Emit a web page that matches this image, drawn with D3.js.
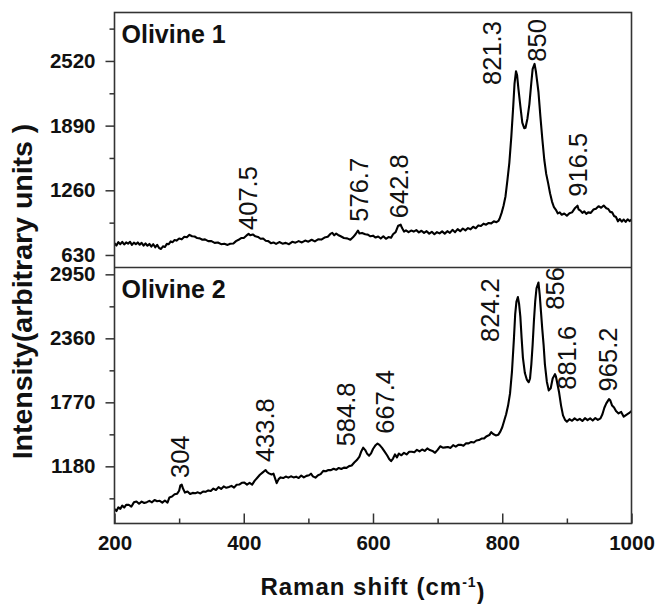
<!DOCTYPE html>
<html>
<head>
<meta charset="utf-8">
<script src="https://cdn.jsdelivr.net/npm/d3@7"></script>
<style>
  html, body { margin: 0; padding: 0; background: #fff; }
  svg { display: block; font-family: "Liberation Sans", Arial, sans-serif; }
</style>
</head>
<body>
<svg id="chart" width="658" height="604"></svg>
<script>
// Raman spectra of two olivine grains: [Raman shift (cm-1), intensity]
const olivine1 = [
  [200,744],[203,722],[206,755],[209,735],[212,758],[215,732],[218,752],[221,740],[224,758],[227,728],
  [230,750],[233,735],[236,752],[239,730],[242,748],[245,722],[248,742],[251,720],[254,738],[257,712],
  [260,735],[263,705],[266,728],[269,698],[272,688],[275,715],[278,708],[281,738],[284,735],[287,762],
  [290,755],[293,775],[296,770],[300,790],[304,782],[308,808],[312,802],[316,826],[320,812],[324,810],
  [328,795],[332,792],[336,778],[340,782],[345,765],[350,765],[355,748],[360,752],[365,735],[370,740],
  [375,728],[379,740],[384,742],[388,765],[392,778],[396,795],[400,796],[404,818],[407.5,835],[410,822],
  [414,830],[418,812],[422,806],[426,788],[430,790],[434,768],[438,765],[442,745],[446,752],[450,738],
  [455,756],[460,740],[465,748],[470,735],[475,758],[480,750],[485,765],[490,752],[495,770],[500,760],
  [505,778],[510,762],[515,782],[520,780],[525,800],[530,808],[534,835],[537,845],[540,822],[543,838],
  [546,825],[550,812],[555,795],[560,792],[565,778],[569,802],[573,832],[576.7,868],[579,840],[583,845],
  [588,832],[592,828],[596,812],[600,818],[604,800],[608,810],[612,790],[616,812],[620,788],[624,805],
  [628,798],[631,832],[635,852],[639,915],[642.8,925],[645,892],[648,858],[651,870],[655,852],[659,868],
  [663,858],[667,872],[671,850],[675,866],[679,845],[683,862],[687,838],[691,856],[695,832],[699,852],
  [703,840],[707,860],[711,838],[715,862],[719,845],[723,875],[727,852],[731,882],[735,862],[739,888],
  [743,870],[747,892],[751,880],[755,905],[759,890],[763,918],[767,912],[771,935],[775,925],[779,942],
  [783,938],[787,958],[791,950],[794,962],[796,985],[799,1040],[802,1110],[805,1200],[808,1360],[811,1530],
  [814,1780],[817,2080],[819,2300],[821.3,2420],[823,2380],[825,2250],[828,2080],[831,1920],[834,1865],[836,1870],
  [839,1960],[842,2100],[845,2310],[847,2440],[850,2491],[852,2420],[854,2320],[856,2220],[859,1980],[862,1760],
  [865,1560],[868,1420],[871,1330],[874,1230],[877,1150],[880,1095],[883,1070],[886,1035],[889,1045],[892,1022],
  [896,1034],[900,1012],[904,1036],[908,1045],[912,1082],[916.5,1110],[918,1075],[921,1062],[924,1040],[927,1055],
  [930,1030],[933,1045],[937,1040],[941,1072],[945,1080],[949,1105],[953,1090],[957,1112],[961,1085],[964,1078],
  [967,1050],[970,1045],[973,1010],[976,1000],[979,958],[982,980],[985,955],[988,975],[991,952],[994,978],
  [997,960],[1000,975]
];

const olivine2 = [
  [200,786],[203,768],[206,802],[209,788],[212,818],[215,800],[218,825],[222,826],[226,808],[230,848],
  [234,856],[238,835],[242,855],[246,842],[250,850],[254,862],[258,848],[262,870],[266,858],[270,862],
  [274,845],[278,865],[282,845],[285,893],[289,902],[293,922],[297,928],[300,955],[302,1005],[304,1012],
  [306,975],[309,938],[313,948],[317,925],[321,935],[325,932],[329,940],[333,930],[337,948],[341,945],
  [345,958],[349,952],[353,975],[357,962],[361,988],[365,972],[369,995],[373,982],[377,990],[381,1000],
  [385,984],[389,1010],[393,1012],[397,1028],[401,1030],[405,1012],[409,1028],[413,1012],[417,1048],[421,1075],
  [425,1102],[429,1122],[433.8,1146],[436,1128],[439,1115],[443,1105],[446,1112],[449,1060],[451,1025],[454,1062],
  [457,1078],[461,1072],[465,1086],[469,1076],[473,1088],[477,1078],[481,1085],[485,1072],[489,1095],[493,1078],
  [497,1092],[501,1098],[504,1112],[507,1088],[511,1076],[515,1098],[519,1108],[523,1138],[527,1135],[531,1146],
  [535,1145],[539,1158],[543,1148],[547,1165],[551,1155],[555,1168],[559,1166],[563,1182],[567,1188],[571,1215],
  [575,1238],[579,1270],[582,1320],[584.8,1352],[588,1330],[591,1295],[594,1278],[597,1300],[600,1340],[604,1375],
  [607,1390],[610,1378],[614,1350],[618,1315],[622,1280],[625,1248],[628,1228],[631,1252],[634,1290],[637,1262],
  [640,1298],[644,1282],[648,1305],[652,1290],[656,1315],[660,1315],[664,1310],[668,1332],[672,1318],[676,1335],
  [680,1322],[684,1345],[688,1330],[692,1322],[696,1305],[700,1332],[704,1365],[708,1352],[712,1355],[716,1358],
  [720,1350],[724,1375],[728,1362],[732,1378],[736,1378],[740,1370],[744,1392],[748,1392],[752,1405],[756,1400],
  [760,1418],[764,1422],[768,1436],[772,1438],[776,1458],[780,1468],[783,1495],[786,1478],[790,1465],[794,1472],
  [797,1500],[800,1540],[803,1600],[806,1660],[809,1740],[812,1850],[815,2050],[818,2350],[820,2580],[822,2700],
  [824.2,2740],[826,2680],[828,2560],[830,2360],[832,2180],[835,2040],[838,1980],[841,1955],[843,1990],[845,2120],
  [847,2300],[849,2520],[851,2700],[853,2820],[856,2875],[858,2760],[860,2600],[862,2440],[864,2300],[866,2120],
  [869,1960],[872,1880],[875,1900],[878,1990],[881.6,2030],[883,2010],[885,1950],[888,1860],[891,1740],[894,1650],
  [897,1610],[900,1592],[904,1615],[908,1600],[912,1622],[916,1605],[920,1618],[924,1598],[928,1624],[932,1606],
  [936,1622],[940,1602],[944,1625],[948,1608],[952,1622],[955,1660],[958,1720],[961,1760],[965.2,1800],[967,1790],
  [970,1740],[973,1722],[976,1690],[980,1668],[984,1682],[988,1638],[992,1655],[996,1670],[1000,1690]
];

// Peak annotations: text, position along the shift axis, intensity at the foot of the label
const peakText1 = ["407.5", "576.7", "642.8", "821.3", "850", "916.5"];
const peakShift1 = [406, 578, 639.5, 784.4, 853.5, 917.2];
const peakLevel1 = [874, 954, 988, 2286, 2513, 1198];

const peakText2 = ["304", "433.8", "584.8", "667.4", "824.2", "856", "881.6", "965.2"];
const peakShift2 = [301.3, 432.6, 558.7, 618.6, 781.5, 880.9, 899.7, 962.6];
const peakLevel2 = [1072, 1219, 1364, 1480, 2326, 2624, 1886, 1871];

// Axis ticks
const xTicks = [200, 400, 600, 800, 1000];
const xMinorTicks = [300, 500, 700, 900];
const yTicks1 = [630, 1260, 1890, 2520];
const yMinorTicks1 = [945, 1575, 2205, 2835];
const yTicks2 = [1180, 1770, 2360, 2950];
const yMinorTicks2 = [885, 1475, 2065, 2655];

const panelNames = ["Olivine 1", "Olivine 2"];

// Layout
const plotLeft = 114.5, plotRight = 631.5, plotTop = 12.5, plotMid = 267.5, plotBottom = 523.5;
const svg = d3.select("#chart");

const x = d3.scaleLinear().domain([200, 1000]).range([plotLeft, plotRight]);
const y1 = d3.scaleLinear().domain([508, 2992]).range([plotMid, plotTop]);
const y2 = d3.scaleLinear().domain([653, 3013]).range([plotBottom, plotMid]);

const frameColor = "#333";

function styleAxis(g) {
  g.select(".domain").remove();
  g.selectAll(".tick line").attr("stroke", frameColor).attr("stroke-width", 1.5);
  g.selectAll(".tick text")
    .attr("fill", "#111")
    .style("font-size", "20.5px")
    .style("font-weight", "bold")
    .style("font-family", "'Liberation Sans', Arial, sans-serif");
}

// clip regions for the two panels
const defs = svg.append("defs");
defs.append("clipPath").attr("id", "clip1")
  .append("rect").attr("x", plotLeft).attr("y", plotTop)
  .attr("width", plotRight - plotLeft).attr("height", plotMid - plotTop);
defs.append("clipPath").attr("id", "clip2")
  .append("rect").attr("x", plotLeft).attr("y", plotMid)
  .attr("width", plotRight - plotLeft).attr("height", plotBottom - plotMid);

const panels = [
  { y: y1, ticks: yTicks1, minor: yMinorTicks1, data: olivine1, clip: "clip1",
    text: peakText1, shift: peakShift1, level: peakLevel1, name: panelNames[0], nameY: 43 },
  { y: y2, ticks: yTicks2, minor: yMinorTicks2, data: olivine2, clip: "clip2",
    text: peakText2, shift: peakShift2, level: peakLevel2, name: panelNames[1], nameY: 297.5 }
];

panels.forEach(p => {
  // y axis with major and minor ticks pointing outward
  svg.append("g").attr("transform", `translate(${plotLeft},0)`)
    .call(d3.axisLeft(p.y).tickValues(p.ticks).tickSize(9).tickPadding(10).tickFormat(d3.format("d")))
    .call(styleAxis);
  svg.append("g").attr("transform", `translate(${plotLeft},0)`)
    .call(d3.axisLeft(p.y).tickValues(p.minor).tickSize(5).tickFormat(""))
    .call(styleAxis);

  // spectrum
  const line = d3.line().x(d => x(d[0])).y(d => p.y(d[1]));
  svg.append("path")
    .datum(p.data)
    .attr("clip-path", `url(#${p.clip})`)
    .attr("fill", "none")
    .attr("stroke", "#000")
    .attr("stroke-width", 2.1)
    .attr("stroke-linejoin", "round")
    .attr("d", line);

  // vertical peak labels
  svg.append("g").selectAll("text")
    .data(p.text)
    .join("text")
    .attr("transform", (d, i) => `translate(${x(p.shift[i])},${p.y(p.level[i])}) rotate(-90)`)
    .attr("dy", "0.36em")
    .attr("text-anchor", "start")
    .attr("fill", "#111")
    .style("font-size", "25.5px")
    .text(d => d);

  // sample name
  svg.append("text")
    .attr("x", plotLeft + 7)
    .attr("y", p.nameY)
    .attr("fill", "#111")
    .style("font-size", "25px")
    .style("font-weight", "bold")
    .text(p.name);
});

// x axis (ticks point into the plot)
svg.append("g").attr("transform", `translate(0,${plotBottom})`)
  .call(d3.axisBottom(x).tickValues(xTicks).tickSize(-10).tickPadding(12).tickFormat(d3.format("d")))
  .call(styleAxis);
svg.append("g").attr("transform", `translate(0,${plotBottom})`)
  .call(d3.axisBottom(x).tickValues(xMinorTicks).tickSize(-5).tickFormat(""))
  .call(styleAxis);

// frame and panel divider
svg.append("rect")
  .attr("x", plotLeft).attr("y", plotTop)
  .attr("width", plotRight - plotLeft).attr("height", plotBottom - plotTop)
  .attr("fill", "none").attr("stroke", frameColor).attr("stroke-width", 1.6);
svg.append("line")
  .attr("x1", plotLeft).attr("x2", plotRight).attr("y1", plotMid).attr("y2", plotMid)
  .attr("stroke", frameColor).attr("stroke-width", 1.6);

// axis titles
const xTitle = svg.append("text")
  .attr("x", (plotLeft + plotRight) / 2)
  .attr("y", 594.5)
  .attr("text-anchor", "middle")
  .attr("fill", "#111")
  .style("font-size", "24px")
  .style("font-weight", "bold")
  .style("letter-spacing", "1px");
xTitle.append("tspan").text("Raman shift (cm");
xTitle.append("tspan").attr("dy", "-0.55em").style("font-size", "14px").text("-1");
xTitle.append("tspan").attr("dy", "0.55em").text(")");

svg.append("text")
  .attr("transform", `translate(31.5,${(120 + 463) / 2}) rotate(-90)`)
  .attr("text-anchor", "middle")
  .attr("fill", "#111")
  .style("font-size", "28.5px")
  .style("font-weight", "bold")
  .text("Intensity(arbitrary units )");
</script>
</body>
</html>
